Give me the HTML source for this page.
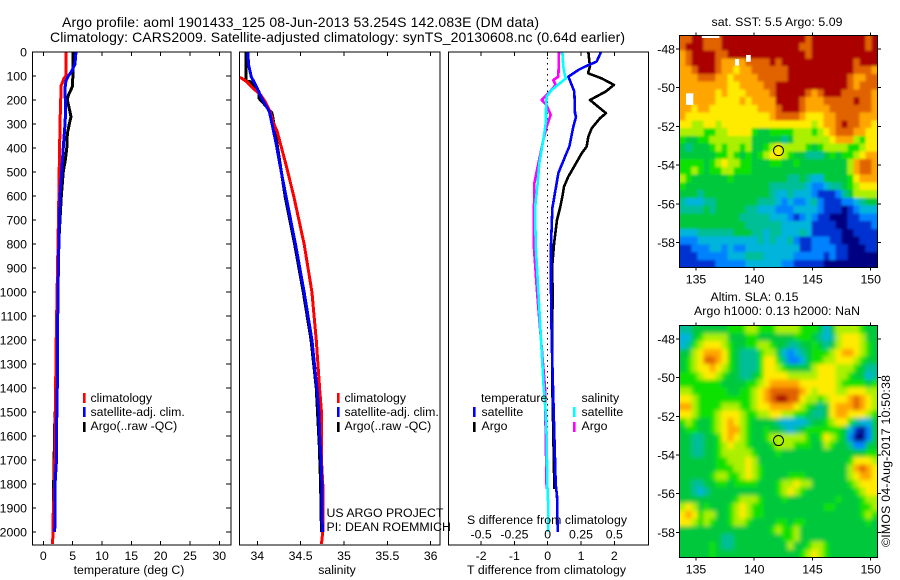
<!DOCTYPE html>
<html lang="en">
<head>
<meta charset="utf-8">
<title>Argo profile 1901433_125</title>
<style>
html,body{margin:0;padding:0;background:#fff;}
svg{display:block;}
text{font-family:"Liberation Sans",sans-serif;fill:#000;font-size:12.3px;}
.title{font-size:14px;}
</style>
</head>
<body>
<svg id="chart" xmlns="http://www.w3.org/2000/svg" width="900" height="580" viewBox="0 0 900 580">
<defs>
<filter id="sst-smooth" x="-5%" y="-5%" width="110%" height="110%"><feGaussianBlur stdDeviation="1.3"/></filter>
<filter id="sla-smooth" x="-5%" y="-5%" width="110%" height="110%"><feGaussianBlur stdDeviation="2"/></filter>
<clipPath id="sst-clip"><rect x="679.5" y="35.5" width="198" height="232"/></clipPath>
<clipPath id="sla-clip"><rect x="679.5" y="325.5" width="198" height="232"/></clipPath>
</defs>
<rect x="0" y="0" width="900" height="580" fill="#fff"/>
<text class="title" x="62" y="27" textLength="477">Argo profile: aoml 1901433_125 08-Jun-2013 53.254S 142.083E (DM data)</text>
<text class="title" x="50" y="42" textLength="575">Climatology: CARS2009. Satellite-adjusted climatology: synTS_20130608.nc (0.64d earlier)</text>
<g id="marks"></g>
<g>
<rect x="83" y="393" width="2.6" height="10" fill="#f00"/>
<rect x="83" y="407" width="2.6" height="10" fill="#00f"/>
<rect x="83" y="422" width="2.6" height="10" fill="#000"/>
<text x="90.5" y="402">climatology</text>
<text x="90.5" y="416">satellite-adj. clim.</text>
<text x="90.5" y="430">Argo(..raw -QC)</text>
</g>
<g>
<rect x="337" y="393" width="2.6" height="10" fill="#f00"/>
<rect x="337" y="407" width="2.6" height="10" fill="#00f"/>
<rect x="337" y="422" width="2.6" height="10" fill="#000"/>
<text x="344.5" y="402">climatology</text>
<text x="344.5" y="416">satellite-adj. clim.</text>
<text x="344.5" y="430">Argo(..raw -QC)</text>
</g>
<g>
<text x="481" y="402">temperature</text>
<rect x="473" y="407" width="2.6" height="10" fill="#00f"/>
<rect x="473" y="422" width="2.6" height="10" fill="#000"/>
<text x="481.5" y="416">satellite</text>
<text x="481.5" y="430">Argo</text>
<text x="581.5" y="402">salinity</text>
<rect x="573" y="407" width="2.6" height="10" fill="#00ffff"/>
<rect x="573" y="422" width="2.6" height="10" fill="#ff00ff"/>
<text x="581.5" y="416">satellite</text>
<text x="581.5" y="430">Argo</text>
</g>
<text x="326.5" y="517">US ARGO PROJECT</text>
<text x="326.5" y="531">PI: DEAN ROEMMICH</text>
<text x="129" y="574" text-anchor="middle">temperature (deg C)</text>
<text x="337" y="574" text-anchor="middle">salinity</text>
<text x="546.5" y="574" text-anchor="middle" textLength="159">T difference from climatology</text>
<text x="547" y="524" text-anchor="middle" textLength="160">S difference from climatology</text>
<text x="777" y="26" text-anchor="middle" textLength="131">sat. SST: 5.5 Argo: 5.09</text>
<text x="754.5" y="301" text-anchor="middle" textLength="88">Altim. SLA: 0.15</text>
<text x="777" y="315" text-anchor="middle" textLength="166">Argo h1000: 0.13 h2000: NaN</text>
<text transform="translate(890,547) rotate(-90)" x="0" y="0" textLength="172">©IMOS 04-Aug-2017 10:50:38</text>
</svg>
<script>
// ---- profile data (depth in dbar, temperature deg C, salinity psu) ----
const depthTicks = [0,100,200,300,400,500,600,700,800,900,1000,1100,1200,1300,1400,1500,1600,1700,1800,1900,2000];
const tempTicks = [0,5,10,15,20,25,30];
const salTicks = [34,34.5,35,35.5,36];
const salTickLabels = ['34','34.5','35','35.5','36'];
const tDiffTicks = [-2,-1,0,1,2];
const sDiffTicks = [-0.5,-0.25,0,0.25,0.5];
const sDiffTickLabels = ['-0.5','-0.25','0','0.25','0.5'];

const climTempDepth = [0,100,110,125,140,250,430,600,800,1000,1200,1400,1600,1800,1950,2050];
const climTemp = [3.9,3.85,3.5,3.3,3.05,2.9,2.75,2.65,2.5,2.35,2.2,2.1,2.0,1.9,1.65,1.6];
const satTempDepth = [0,50,80,100,120,150,250,300,400,500,600,800,1000,1200,1400,1500,1700,1800,2000];
const satTemp = [5.57,5.4,4.84,4.27,3.87,3.7,3.8,3.7,3.4,3.13,2.85,2.65,2.5,2.42,2.38,2.3,2.25,2.0,1.95];
const argoTempDepth = [0,140,150,180,200,230,270,300,340,400,450,500,600,800,1000,1200,1400,1550,1800,2000];
const argoTemp = [5.1,5.0,4.85,4.27,4.1,4.38,4.72,4.43,4.1,4.0,3.75,3.4,3.07,2.62,2.45,2.3,2.2,1.95,1.77,1.8];

const climSalDepth = [105,124,151,179,207,249,290,332,387,468,600,800,1000,1200,1408,1500,1700,1800,2000,2050];
const climSal = [33.8,33.88,33.95,34.04,34.09,34.15,34.18,34.23,34.27,34.33,34.42,34.54,34.63,34.68,34.72,34.74,34.74,34.755,34.755,34.74];
const satSalDepth = [0,54,103,137,192,249,317,387,468,600,800,1000,1200,1408,1500,1600,1700,1800,2000];
const satSal = [33.89,33.9,33.93,33.98,34.05,34.14,34.18,34.22,34.26,34.33,34.44,34.54,34.63,34.69,34.71,34.72,34.735,34.745,34.75];
const argoSalDepth = [0,121,124,144,165,193,213,255,317,600,800,1000,1200,1400,1640,1800,2000];
const argoSal = [33.87,33.87,33.92,33.97,34.02,34.02,34.07,34.17,34.2,34.32,34.43,34.53,34.62,34.68,34.715,34.73,34.74];

const argoTDiffDepth = [0,61,82,89,110,137,165,200,255,276,318,353,394,422,471,519,561,603,650,700,800,900,1000,1200,1400,1600,1820];
const argoTDiff = [1.22,1.27,1.22,1.22,1.62,1.99,1.74,1.27,1.75,1.57,1.32,1.22,1.17,1.02,0.82,0.62,0.49,0.44,0.37,0.28,0.19,0.13,0.15,0.13,0.14,0.17,0.2];
const satTDiffDepth = [0,40,61,75,103,137,165,255,270,311,394,436,505,650,800,1000,1200,1400,1600,1800,1850,2000];
const satTDiff = [1.6,1.47,1.12,0.92,0.62,0.72,0.8,0.82,0.85,0.77,0.65,0.52,0.32,0.14,0.1,0.1,0.12,0.16,0.2,0.24,0.28,0.3];
const argoSDiffDepth = [0,103,117,137,165,200,221,262,311,367,464,546,650,800,1000,1200,1400,1600,1820];
const argoSDiff = [0.085,0.08,0.042,0.06,0.017,-0.045,-0.008,0.022,-0.008,-0.033,-0.07,-0.1,-0.103,-0.105,-0.08,-0.05,-0.02,-0.015,-0.008];
const satSDiffDepth = [0,60,100,110,130,158,186,242,290,367,464,546,650,800,1000,1200,1400,1500,1600,1800,1900,2000];
const satSDiff = [0.11,0.117,0.13,0.137,0.092,0.03,-0.008,-0.013,-0.013,-0.033,-0.063,-0.075,-0.095,-0.09,-0.07,-0.05,-0.03,-0.015,-0.008,-0.003,0.005,0.005];
const zeroLineDepth = [0,1650];
const zeroLineValue = [0,0];

// ---- map data: colour-level values (0 = coldest/lowest ... 11 = warmest/highest) ----
const lonTicks = [135,140,145,150];
const latTicks = [-48,-50,-52,-54,-56,-58];
const profileLon = [142.083];
const profileLat = [-53.254];
const sstGrid = [
[10,10,11,11,10,10,10,11,11,11,11,11,11,11,11,11,11,11,11,11,11,10,11,11,11,11,11,11,11,11,11,10,11],
[10,11,11,11,10,10,10,11,11,11,11,11,11,11,11,11,11,11,11,11,10,10,11,11,11,11,11,11,11,11,11,10,11],
[9,10,11,11,11,11,10,10,11,11,11,11,11,11,11,11,11,11,11,11,11,10,11,11,11,11,11,11,11,11,11,11,11],
[9,10,11,11,11,11,10,9,9,9,9,10,10,10,10,11,10,11,11,11,11,11,11,11,11,11,11,11,11,10,11,11,11],
[9,9,10,11,11,11,10,9,9,8,9,9,10,10,10,10,10,10,11,11,11,11,11,11,11,11,11,11,11,10,10,10,9],
[9,9,9,10,10,10,9,9,8,9,9,9,9,10,10,10,10,10,11,11,11,11,11,11,11,11,11,11,10,9,9,10,10],
[9,9,9,9,9,9,9,9,8,8,9,9,9,9,10,10,11,11,11,11,11,11,11,11,11,11,11,11,10,9,10,10,10],
[9,9,9,9,9,9,8,9,8,8,8,9,9,9,9,10,11,11,11,11,11,10,9,10,11,11,11,10,10,10,10,10,9],
[9,9,9,9,9,9,8,8,8,8,9,8,9,9,9,9,11,11,11,11,10,9,9,9,10,10,10,10,10,11,10,10,9],
[9,9,8,9,9,8,8,8,8,8,8,8,8,9,9,9,10,11,11,11,10,9,9,9,9,10,10,10,10,10,10,10,9],
[9,8,8,8,8,8,8,8,8,8,8,8,8,8,8,9,10,10,10,10,9,8,8,8,9,9,10,10,10,10,9,9,9],
[8,8,7,7,8,8,7,8,8,8,8,8,8,8,8,8,8,8,8,8,8,8,7,8,9,9,10,11,10,10,9,9,8],
[7,7,7,7,6,6,7,7,8,8,8,8,6,5,5,6,6,6,6,7,7,7,6,7,8,9,10,10,10,9,9,8,8],
[6,5,5,6,6,7,7,7,7,7,7,7,5,5,5,5,5,4,5,7,7,7,7,7,7,8,9,9,9,7,6,8,8],
[5,4,5,5,5,6,7,6,7,7,6,7,5,5,6,7,8,7,7,7,7,6,5,6,7,7,7,7,6,6,7,8,8],
[5,5,5,5,5,5,6,6,7,6,5,6,5,6,7,8,8,7,6,5,5,4,4,4,5,6,5,6,6,7,8,9,9],
[6,6,6,6,5,6,7,8,7,7,6,6,5,5,5,6,6,5,5,6,5,5,5,5,5,5,5,5,7,9,10,10,9],
[6,6,7,6,5,6,6,7,7,6,6,6,5,5,5,5,5,5,5,5,5,5,5,5,5,5,5,5,7,9,10,10,9],
[7,6,5,5,5,5,5,5,6,5,5,5,5,5,5,5,5,5,4,4,5,4,3,3,5,5,5,5,6,8,9,9,9],
[6,5,5,5,5,5,5,5,5,5,5,5,5,5,5,4,4,4,4,4,4,3,2,2,3,4,4,5,6,7,8,8,8],
[5,5,5,4,5,5,5,5,5,5,5,5,5,5,5,4,3,3,4,3,3,3,2,1,1,1,2,4,5,7,7,7,7],
[4,3,3,3,4,4,5,5,5,5,5,5,5,4,4,4,3,2,3,2,2,3,4,2,1,1,1,2,2,3,4,5,5],
[4,4,4,4,5,4,5,5,5,5,5,4,4,3,3,3,2,2,2,3,3,3,3,2,1,1,1,0,1,2,3,3,3],
[5,5,5,5,5,5,5,5,5,5,4,4,4,4,4,3,3,3,2,1,2,3,2,1,1,0,0,0,1,1,2,2,2],
[5,5,5,5,5,5,5,5,5,5,5,4,4,4,4,4,4,3,3,3,3,3,1,1,1,1,0,0,1,1,1,1,2],
[3,3,3,4,4,4,4,4,4,5,5,5,4,4,3,4,4,3,3,3,4,3,1,1,1,1,1,0,0,1,1,1,1],
[2,2,2,3,3,3,3,3,3,3,3,3,3,4,3,4,3,3,4,2,1,1,2,2,2,1,1,0,0,0,1,1,1],
[1,1,2,2,2,3,3,2,3,2,2,3,3,3,3,3,3,3,3,3,1,1,2,2,2,2,1,1,0,0,0,1,1],
[1,1,1,2,2,2,2,2,3,3,3,4,4,4,3,3,3,3,3,2,2,2,2,2,1,2,1,1,0,0,0,0,0],
[1,1,1,1,1,1,2,2,2,2,2,3,3,3,3,3,3,2,2,1,1,1,1,1,0,0,0,0,0,0,0,0,0]
];
const slaGrid = [
[4,4,5,5,5,5,5,5,6,6,6,7,7,6,6,6,7,7,7,7,6,6,6,5,3,5,7,7,7,7,6,5,5],
[3,3,5,6,7,7,7,7,5,5,5,6,6,5,5,5,5,5,5,6,6,6,5,4,3,4,7,8,8,8,7,5,5],
[3,4,6,7,8,8,8,7,6,5,5,6,6,7,7,6,5,5,4,4,5,5,6,5,4,5,7,8,8,8,7,6,5],
[5,5,7,8,9,9,9,8,6,5,4,4,4,6,7,7,5,3,2,3,4,5,6,6,6,7,8,9,9,8,7,6,5],
[5,6,7,8,10,10,9,8,6,5,4,4,4,6,8,8,6,4,2,2,3,5,6,6,7,7,8,8,8,7,6,5,5],
[5,6,7,8,8,9,8,7,6,5,4,4,4,6,8,8,7,6,5,5,5,5,7,8,8,8,7,7,7,6,5,4,4],
[6,6,6,7,8,8,7,6,5,5,4,4,5,6,8,8,8,8,7,7,7,7,7,8,8,8,7,7,6,5,5,3,4],
[6,6,6,6,6,6,6,5,5,5,5,6,6,7,8,9,9,9,9,9,8,8,8,8,8,8,7,6,6,6,6,5,6],
[7,7,6,6,6,6,6,6,5,5,6,6,7,8,9,10,10,10,10,10,9,8,7,8,8,8,7,7,8,8,8,7,7],
[8,8,7,6,6,6,6,6,6,6,6,6,7,8,9,10,11,11,10,10,8,7,7,6,7,8,8,8,9,10,9,8,7],
[9,9,7,6,6,6,6,7,7,7,6,6,7,8,8,9,9,9,9,8,7,6,5,4,5,8,9,9,9,10,9,8,7],
[8,8,7,6,6,6,7,8,8,8,7,6,6,7,7,8,8,7,7,6,6,5,4,4,5,8,9,9,8,8,8,7,6],
[6,7,6,5,5,6,7,8,9,8,7,6,5,5,5,5,4,3,3,3,3,4,5,5,6,7,8,8,6,4,3,3,5],
[5,6,6,5,5,6,7,8,9,9,7,6,5,5,6,5,5,4,3,4,5,6,6,6,6,6,6,5,3,1,0,2,5],
[5,5,4,4,5,5,6,8,9,8,7,6,5,5,6,7,7,7,7,7,7,6,5,6,8,7,6,5,2,0,0,2,5],
[5,5,4,4,5,5,6,7,8,7,7,6,5,5,5,6,7,7,7,6,6,6,5,5,7,6,5,5,4,2,2,5,5],
[5,5,4,4,5,5,6,7,7,7,7,7,6,5,5,5,6,5,5,5,5,5,5,5,5,5,5,5,5,5,5,6,6],
[5,5,5,5,5,5,6,6,7,7,7,8,7,5,5,5,5,5,5,5,5,5,5,5,5,5,5,5,6,8,8,8,7],
[5,5,5,5,5,5,6,6,6,7,7,8,7,6,5,5,5,5,5,5,5,5,5,5,5,5,5,5,7,9,10,9,8],
[5,5,5,5,5,6,7,7,6,6,7,8,7,6,5,5,5,5,6,6,6,5,5,5,5,5,5,5,7,8,9,9,8],
[5,5,4,4,5,5,6,6,5,6,6,6,6,5,5,5,6,7,7,8,7,7,5,5,5,5,5,5,6,7,8,8,8],
[5,5,4,3,4,5,5,5,5,5,5,5,5,5,5,5,6,7,8,7,6,5,5,5,5,5,5,5,5,6,7,8,8],
[5,5,5,5,5,5,5,5,5,6,7,7,7,6,5,5,5,6,5,5,5,5,5,5,5,5,6,5,5,5,6,7,7],
[7,8,7,5,6,5,5,5,6,7,8,7,6,6,5,5,5,5,5,5,5,5,5,5,6,6,5,5,5,5,6,6,7],
[8,9,8,6,7,7,5,5,6,7,8,7,6,6,5,5,5,5,5,5,5,5,5,5,5,5,5,5,5,5,6,7,6],
[8,8,7,6,7,6,5,5,6,7,7,6,5,5,5,5,6,6,5,6,6,5,5,5,5,5,5,5,5,5,5,6,5],
[5,5,5,5,5,5,5,5,5,5,5,5,5,5,5,6,7,6,6,7,5,5,5,5,5,5,5,5,5,5,5,5,5],
[5,5,5,5,5,5,5,4,4,5,5,5,5,5,5,5,5,6,6,7,5,5,5,5,5,5,5,5,5,5,5,5,5],
[5,5,5,5,5,6,5,4,4,5,5,5,5,5,5,5,5,5,7,5,5,6,7,7,6,5,5,5,5,5,5,5,5],
[5,5,5,5,5,6,5,5,5,5,5,5,5,5,5,5,5,5,5,5,6,7,8,7,6,5,5,5,5,5,5,5,5]
];
const sstGapLon0 = [135.5,138.35,139.3,134.14];
const sstGapLon1 = [137.0,138.7,139.7,134.77];
const sstGapLat0 = [-47.28,-48.52,-48.31,-50.29];
const sstGapLat1 = [-47.43,-48.86,-48.66,-50.89];

// ---- styling / layout ----
const palette = ['#000082','#0032d2','#0082ff','#00b4dc','#00be96','#00c83c','#0ae100','#aaf000','#ffeb00','#ffa500','#e16400','#aa0000'];
const svgNS = 'http://www.w3.org/2000/svg';
const root = document.getElementById('marks');

function yDepth(d){ return 52 + 0.24 * d; }
function xTemp(t){ return 43.3 + 5.867 * t; }
function xSal(s){ return 257.3 + 86.7 * (s - 34); }
function xTDiff(t){ return 547.7 + 33.3 * t; }
function xSDiff(s){ return 547.7 + 133.2 * s; }
function xLon(lon){ return 696 + 11.647 * (lon - 135); }
function ySstLat(lat){ return 49 - 19.35 * (lat + 48); }
function ySlaLat(lat){ return 339 - 19.33 * (lat + 48); }

function mk(tag, name, parent){
  const el = document.createElementNS(svgNS, tag);
  
  
  (parent || root).appendChild(el);
  return el;
}
function line(x1, y1, x2, y2, name){
  const el = mk('line', name);
  el.setAttribute('x1', x1);
  el.setAttribute('y1', y1);
  el.setAttribute('x2', x2);
  el.setAttribute('y2', y2);
  el.setAttribute('stroke', '#000');
  el.setAttribute('stroke-width', '1');
  el.setAttribute('shape-rendering', 'crispEdges');
  return el;
}
function label(x, y, str, anchor, name){
  const el = mk('text', name);
  el.setAttribute('x', x);
  el.setAttribute('y', y);
  el.setAttribute('text-anchor', anchor);
  el.textContent = str;
  return el;
}
function frame(x, y, w, h, name){
  const el = mk('rect', name);
  el.setAttribute('x', x);
  el.setAttribute('y', y);
  el.setAttribute('width', w);
  el.setAttribute('height', h);
  el.setAttribute('fill', 'none');
  el.setAttribute('stroke', '#000');
  el.setAttribute('stroke-width', '1');
  el.setAttribute('shape-rendering', 'crispEdges');
  return el;
}
function series(depths, values, xFn, color, width, name){
  const el = mk('polyline', name);
  const pts = [];
  for (let i = 0; i < depths.length; i++) {
    pts.push(xFn(values[i]).toFixed(2) + ',' + yDepth(depths[i]).toFixed(2));
  }
  el.setAttribute('points', pts.join(' '));
  el.setAttribute('fill', 'none');
  el.setAttribute('stroke', color);
  el.setAttribute('stroke-width', width);
  el.setAttribute('stroke-linejoin', 'round');
  el.setAttribute('shape-rendering', 'crispEdges');
  return el;
}

// ---- profile panels ----
const pTop = 52, pBottom = 545;

series(argoTempDepth, argoTemp, xTemp, '#000', 3, 'argo-temperature-line');
series(climTempDepth, climTemp, xTemp, '#f00', 3, 'climatology-temperature-line');
series(satTempDepth, satTemp, xTemp, '#00f', 3, 'satellite-temperature-line');

series(argoSalDepth, argoSal, xSal, '#000', 3, 'argo-salinity-line');
series(climSalDepth, climSal, xSal, '#f00', 3, 'climatology-salinity-line');
series(satSalDepth, satSal, xSal, '#00f', 3, 'satellite-salinity-line');

const zeroLine = series(zeroLineDepth, zeroLineValue, xTDiff, '#000', 1, 'zero-difference-line');
zeroLine.setAttribute('stroke-dasharray', '1.5 4');
series(argoTDiffDepth, argoTDiff, xTDiff, '#000', 2.6, 'argo-t-difference-line');
series(satTDiffDepth, satTDiff, xTDiff, '#00f', 2.6, 'satellite-t-difference-line');
series(argoSDiffDepth, argoSDiff, xSDiff, '#ff00ff', 2.6, 'argo-s-difference-line');
series(satSDiffDepth, satSDiff, xSDiff, '#00ffff', 2.6, 'satellite-s-difference-line');

frame(32.5, pTop, 198.5, pBottom - pTop, 'temperature-panel-frame');
frame(239.5, pTop, 200.5, pBottom - pTop, 'salinity-panel-frame');
frame(448.5, pTop, 200, pBottom - pTop, 'difference-panel-frame');

depthTicks.forEach(function (d) {
  const y = yDepth(d);
  line(32.5, y, 36, y, 'depth-tick-left');
  line(226, y, 231, y, 'depth-tick-right');
  label(27, y + 4.5, String(d), 'end', 'depth-tick-label');
});
tempTicks.forEach(function (t) {
  const x = xTemp(t);
  line(x, pBottom - 4, x, pBottom, 'temperature-tick-bottom');
  line(x, pTop, x, pTop + 4, 'temperature-tick-top');
  label(x, 560, String(t), 'middle', 'temperature-tick-label');
});
salTicks.forEach(function (s, i) {
  const x = xSal(s);
  line(x, pBottom - 4, x, pBottom, 'salinity-tick-bottom');
  line(x, pTop, x, pTop + 4, 'salinity-tick-top');
  label(x, 560, salTickLabels[i], 'middle', 'salinity-tick-label');
});
tDiffTicks.forEach(function (t) {
  const x = xTDiff(t);
  line(x, pBottom - 4, x, pBottom, 't-difference-tick-bottom');
  line(x, pTop, x, pTop + 4, 't-difference-tick-top');
  label(x, 560, String(t), 'middle', 't-difference-tick-label');
});
sDiffTicks.forEach(function (s, i) {
  label(xSDiff(s), 538.5, sDiffTickLabels[i], 'middle', 's-difference-tick-label');
});

// ---- map panels ----
function drawMap(grid, yLat, prefix, top, bottom, labelY){
  const lonMin = 133.57, lonMax = 150.57;
  const latTopUsed = prefix === 'sst' ? -47.28 : -47.31;
  const latBot = prefix === 'sst' ? -59.3 : -59.28;
  const dLon = (lonMax - lonMin) / grid[0].length;
  const dLat = (latTopUsed - latBot) / grid.length;
  const clipGroup = mk('g', prefix + '-map-clip-group');
  clipGroup.setAttribute('clip-path', 'url(#' + prefix + '-clip)');
  const cellGroup = mk('g', prefix + '-heatmap', clipGroup);
  cellGroup.setAttribute('filter', 'url(#' + prefix + '-smooth)');
  const bleed = 10;
  for (let r = 0; r < grid.length; r++) {
    for (let c = 0; c < grid[r].length; c++) {
      const cell = mk('rect', prefix + '-cell', cellGroup);
      let x0 = xLon(lonMin + c * dLon);
      let y0 = yLat(latTopUsed - r * dLat);
      let w = dLon * 11.647 + 0.3;
      let h = dLat * 19.35 + 0.3;
      if (c === 0) { x0 -= bleed; w += bleed; }
      if (c === grid[r].length - 1) { w += bleed; }
      if (r === 0) { y0 -= bleed; h += bleed; }
      if (r === grid.length - 1) { h += bleed; }
      cell.setAttribute('x', x0.toFixed(2));
      cell.setAttribute('y', y0.toFixed(2));
      cell.setAttribute('width', w.toFixed(2));
      cell.setAttribute('height', h.toFixed(2));
      cell.setAttribute('fill', palette[Math.max(0, Math.min(11, Math.round(grid[r][c])))]);
      cell.setAttribute('shape-rendering', 'crispEdges');
    }
  }
  if (prefix === 'sst') {
    for (let g = 0; g < sstGapLon0.length; g++) {
      const gap = mk('rect', 'sst-missing-data');
      gap.setAttribute('x', xLon(sstGapLon0[g]));
      gap.setAttribute('y', yLat(sstGapLat0[g]));
      gap.setAttribute('width', xLon(sstGapLon1[g]) - xLon(sstGapLon0[g]));
      gap.setAttribute('height', yLat(sstGapLat1[g]) - yLat(sstGapLat0[g]));
      gap.setAttribute('fill', '#fff');
    }
  }
  frame(679.5, top, 198, bottom - top, prefix + '-map-frame');
  lonTicks.forEach(function (lon) {
    const x = xLon(lon);
    line(x, top - 3, x, top, prefix + '-lon-tick-top');
    line(x, bottom, x, bottom + 3, prefix + '-lon-tick-bottom');
    label(x, labelY, String(lon), 'middle', prefix + '-lon-tick-label');
  });
  latTicks.forEach(function (lat) {
    const y = yLat(lat);
    line(676, y, 679.5, y, prefix + '-lat-tick-left');
    line(877.5, y, 881, y, prefix + '-lat-tick-right');
    label(675, y + 4.5, String(lat), 'end', prefix + '-lat-tick-label');
  });
  const marker = mk('circle', prefix + '-profile-location');
  marker.setAttribute('cx', xLon(profileLon[0]));
  marker.setAttribute('cy', yLat(profileLat[0]));
  marker.setAttribute('r', 5);
  marker.setAttribute('fill', 'none');
  marker.setAttribute('stroke', '#000');
  marker.setAttribute('stroke-width', '1');
}
drawMap(sstGrid, ySstLat, 'sst', 35.5, 267.5, 283.5);
drawMap(slaGrid, ySlaLat, 'sla', 325.5, 557.5, 573.5);
</script>
</body>
</html>
